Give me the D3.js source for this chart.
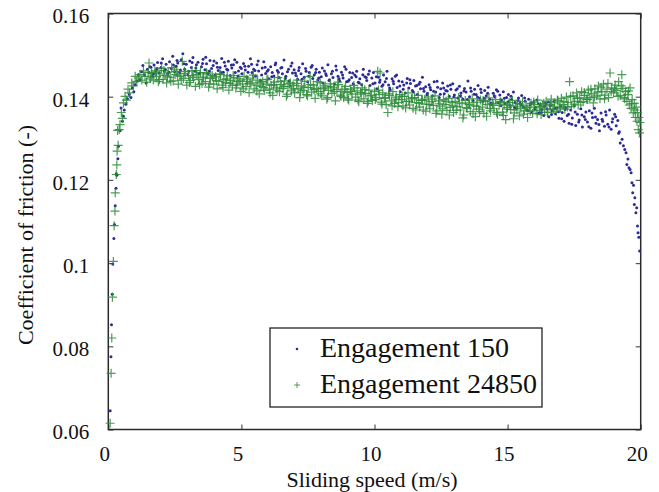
<!DOCTYPE html>
<html>
<head>
<meta charset="utf-8">
<script src="https://cdn.jsdelivr.net/npm/d3@7/dist/d3.min.js"></script>
<style>
  html, body { margin: 0; padding: 0; background: #fff; }
  svg { display: block; }
  text { font-family: "Liberation Serif", "DejaVu Serif", "Times New Roman", serif; fill: #111; }
</style>
</head>
<body>
<svg id="chart" width="659" height="492"></svg>
<script>
// Friction coefficient vs sliding speed, two engagements of the clutch test.
const seriesNames = ["Engagement 150", "Engagement 24850"];
const xTicks = [0, 5, 10, 15, 20];
const yTicks = [0.06, 0.08, 0.10, 0.12, 0.14, 0.16];
const yTickLabels = ["0.06", "0.08", "0.1", "0.12", "0.14", "0.16"];
const xTitle = "Sliding speed (m/s)";
const yTitle = "Coefficient of friction (-)";

// [sliding speed (m/s), coefficient of friction]
const engagement150 = [
  [0.07,0.0645],[0.10,0.0775],[0.12,0.0852],[0.15,0.0925],[0.17,0.0998],[0.21,0.1059],[0.23,0.1093],[0.26,0.1138],
  [0.29,0.1180],[0.30,0.1215],[0.32,0.1211],[0.36,0.1251],[0.38,0.1281],[0.44,0.1318],[0.48,0.1373],[0.53,0.1341],
  [0.57,0.1353],[0.60,0.1368],[0.66,0.1382],[0.72,0.1395],[0.79,0.1405],[0.85,0.1398],[0.90,0.1421],[0.96,0.1412],
  [1.01,0.1429],[1.07,0.1438],[1.13,0.1453],[1.19,0.1441],[1.25,0.1460],[1.30,0.1475],[1.36,0.1452],[1.42,0.1433],
  [1.47,0.1466],[1.53,0.1458],[1.60,0.1471],[1.66,0.1449],[1.72,0.1476],[1.79,0.1463],[1.85,0.1482],[1.91,0.1457],
  [1.98,0.1470],[2.04,0.1491],[2.10,0.1462],[2.17,0.1478],[2.23,0.1455],[2.30,0.1484],[2.36,0.1468],[2.42,0.1497],
  [2.49,0.1460],[2.55,0.1473],[2.61,0.1481],[2.68,0.1458],[2.74,0.1489],[2.80,0.1503],[2.87,0.1466],[2.93,0.1478],
  [2.99,0.1452],[3.06,0.1486],[3.12,0.1470],[3.18,0.1494],[3.25,0.1461],[3.31,0.1477],[3.37,0.1483],[3.44,0.1457],
  [3.50,0.1472],[3.56,0.1490],[3.63,0.1465],[3.69,0.1479],[3.75,0.1456],[3.82,0.1487],[3.88,0.1468],[3.94,0.1475],
  [4.01,0.1452],[4.07,0.1481],[4.13,0.1463],[4.20,0.1470],[4.26,0.1492],[4.32,0.1459],[4.39,0.1474],[4.45,0.1466],
  [4.51,0.1485],[4.58,0.1451],[4.64,0.1469],[4.70,0.1477],[4.77,0.1458],[4.83,0.1483],[4.89,0.1462],[4.96,0.1471],
  [5.02,0.1455],[5.08,0.1480],[5.15,0.1464],[5.21,0.1447],[5.27,0.1473],[5.34,0.1491],[5.40,0.1458],[5.46,0.1466],
  [5.53,0.1450],[5.59,0.1477],[5.65,0.1462],[5.72,0.1439],[5.78,0.1469],[5.84,0.1484],[5.91,0.1456],[5.97,0.1461],
  [6.03,0.1443],[6.10,0.1472],[6.16,0.1458],[6.22,0.1450],[6.29,0.1481],[6.35,0.1463],[6.41,0.1446],[6.48,0.1469],
  [6.54,0.1455],[6.60,0.1488],[6.67,0.1449],[6.73,0.1460],[6.79,0.1438],[6.86,0.1474],[6.92,0.1457],[6.98,0.1465],
  [7.05,0.1451],[7.11,0.1442],[7.17,0.1470],[7.24,0.1455],[7.30,0.1479],[7.36,0.1447],[7.43,0.1461],[7.49,0.1436],
  [7.55,0.1458],[7.62,0.1471],[7.68,0.1444],[7.74,0.1453],[7.81,0.1466],[7.87,0.1440],[7.93,0.1459],[8.00,0.1448],
  [8.06,0.1433],[8.12,0.1462],[8.19,0.1451],[8.25,0.1477],[8.31,0.1441],[8.38,0.1455],[8.44,0.1446],[8.50,0.1430],
  [8.57,0.1464],[8.63,0.1449],[8.69,0.1438],[8.76,0.1459],[8.82,0.1445],[8.88,0.1472],[8.95,0.1436],[9.01,0.1437],
  [9.07,0.1458],[9.14,0.1446],[9.20,0.1431],[9.26,0.1452],[9.33,0.1461],[9.39,0.1435],[9.45,0.1443],[9.52,0.1429],
  [9.58,0.1466],[9.64,0.1448],[9.71,0.1439],[9.77,0.1454],[9.83,0.1427],[9.90,0.1445],[9.96,0.1458],[10.02,0.1433],
  [10.09,0.1419],[10.15,0.1447],[10.21,0.1440],[10.28,0.1425],[10.34,0.1452],[10.40,0.1436],[10.47,0.1461],[10.53,0.1428],
  [10.59,0.1417],[10.66,0.1443],[10.72,0.1431],[10.78,0.1449],[10.85,0.1422],[10.91,0.1438],[10.97,0.1412],[11.04,0.1436],
  [11.10,0.1428],[11.16,0.1409],[11.23,0.1444],[11.29,0.1421],[11.35,0.1432],[11.42,0.1415],[11.48,0.1439],[11.54,0.1426],
  [11.61,0.1405],[11.67,0.1430],[11.73,0.1419],[11.80,0.1447],[11.86,0.1413],[11.92,0.1424],[11.99,0.1408],[12.05,0.1429],
  [12.11,0.1417],[12.18,0.1402],[12.24,0.1436],[12.30,0.1411],[12.37,0.1423],[12.43,0.1398],[12.49,0.1419],[12.56,0.1433],
  [12.62,0.1407],[12.68,0.1415],[12.75,0.1426],[12.81,0.1401],[12.87,0.1418],[12.94,0.1431],[13.00,0.1404],[13.06,0.1416],
  [13.13,0.1397],[13.19,0.1425],[13.25,0.1409],[13.32,0.1394],[13.38,0.1420],[13.44,0.1411],[13.51,0.1438],[13.57,0.1400],
  [13.63,0.1413],[13.70,0.1391],[13.76,0.1418],[13.82,0.1405],[13.89,0.1427],[13.95,0.1396],[14.01,0.1410],[14.08,0.1389],
  [14.14,0.1415],[14.20,0.1402],[14.27,0.1423],[14.33,0.1394],[14.39,0.1381],[14.46,0.1408],[14.52,0.1399],[14.58,0.1417],
  [14.65,0.1386],[14.71,0.1404],[14.77,0.1392],[14.84,0.1412],[14.90,0.1383],[14.96,0.1398],[15.03,0.1405],[15.09,0.1379],
  [15.15,0.1393],[15.22,0.1411],[15.28,0.1386],[15.34,0.1372],[15.41,0.1397],[15.47,0.1384],[15.53,0.1403],[15.60,0.1375],
  [15.66,0.1389],[15.72,0.1368],[15.79,0.1394],[15.85,0.1381],[15.91,0.1363],[15.98,0.1387],[16.04,0.1374],[16.10,0.1392],
  [16.17,0.1361],[16.23,0.1380],[16.29,0.1369],[16.36,0.1355],[16.42,0.1384],[16.48,0.1371],[16.55,0.1352],[16.61,0.1378],
  [16.67,0.1366],[16.74,0.1389],[16.80,0.1359],[16.86,0.1373],[16.93,0.1348],[16.99,0.1377],[17.05,0.1362],[17.12,0.1341],
  [17.18,0.1374],[17.24,0.1355],[17.31,0.1336],[17.37,0.1368],[17.43,0.1349],[17.50,0.1379],[17.56,0.1331],[17.62,0.1358],
  [17.69,0.1344],[17.75,0.1371],[17.81,0.1327],[17.88,0.1352],[17.94,0.1363],[18.00,0.1339],[18.07,0.1366],[18.13,0.1324],
  [18.19,0.1350],[18.26,0.1372],[18.32,0.1336],[18.38,0.1345],[18.45,0.1318],[18.51,0.1361],[18.57,0.1341],[18.64,0.1329],
  [18.70,0.1356],[18.76,0.1334],[18.83,0.1368],[18.89,0.1322],[18.95,0.1347],[19.02,0.1358],[19.08,0.1330],[19.14,0.1343],
  [19.20,0.1316],[19.23,0.1289],[19.30,0.1298],[19.35,0.1282],[19.40,0.1273],[19.45,0.1265],[19.48,0.1237],[19.52,0.1250],
  [19.56,0.1229],[19.60,0.1225],[19.64,0.1217],[19.67,0.1193],[19.70,0.1169],[19.73,0.1187],[19.76,0.1141],[19.78,0.1157],
  [19.82,0.1121],[19.85,0.1133],[19.88,0.1089],[19.90,0.1073],[19.93,0.1062],[19.96,0.1029],
  [1.56,0.1472],[1.70,0.1455],[1.84,0.1468],[1.99,0.1481],[2.14,0.1466],[2.28,0.1459],[2.45,0.1476],[2.58,0.1487],
  [2.71,0.1464],[2.84,0.1479],[3.02,0.1461],[3.15,0.1482],[3.29,0.1469],[3.41,0.1455],[3.54,0.1480],[3.66,0.1495],
  [3.80,0.1462],[3.97,0.1486],[4.10,0.1471],[4.23,0.1458],[4.36,0.1483],[4.49,0.1464],[4.62,0.1476],[4.75,0.1489],
  [4.87,0.1450],[5.00,0.1468],[5.13,0.1473],[5.25,0.1459],[5.38,0.1478],[5.51,0.1463],[5.63,0.1486],[5.76,0.1452],
  [5.89,0.1471],[6.01,0.1465],[6.14,0.1448],[6.27,0.1477],[6.39,0.1459],[6.52,0.1470],[6.65,0.1444],[6.77,0.1466],
  [6.90,0.1481],[7.03,0.1457],[7.15,0.1463],[7.28,0.1442],[7.41,0.1468],[7.53,0.1449],[7.66,0.1475],[7.79,0.1458],
  [7.91,0.1445],[8.04,0.1469],[8.17,0.1455],[8.29,0.1439],[8.42,0.1461],[8.55,0.1474],[8.67,0.1443],[8.80,0.1452],
  [8.93,0.1466],[9.05,0.1441],[9.18,0.1457],[9.31,0.1448],[9.43,0.1433],[9.56,0.1453],[9.69,0.1446],[9.81,0.1462],
  [9.94,0.1431],[10.07,0.1448],[10.19,0.1435],[10.32,0.1429],[10.45,0.1444],[10.57,0.1421],[10.70,0.1437],[10.83,0.1452],
  [10.95,0.1426],[11.08,0.1418],[11.21,0.1433],[11.33,0.1441],[11.46,0.1411],[11.59,0.1427],[11.71,0.1435],[11.84,0.1420],
  [11.97,0.1404],[12.09,0.1422],[12.22,0.1413],[12.35,0.1437],[12.47,0.1406],[12.60,0.1421],[12.73,0.1414],[12.85,0.1428],
  [12.98,0.1399],[13.11,0.1419],[13.23,0.1402],[13.36,0.1414],[13.49,0.1393],[13.61,0.1421],[13.74,0.1406],[13.87,0.1399],
  [13.99,0.1418],[14.12,0.1396],[14.25,0.1408],[14.37,0.1385],[14.50,0.1402],[14.63,0.1413],[14.75,0.1378],[14.88,0.1396],
  [15.01,0.1387],[15.13,0.1401],[15.26,0.1374],[15.39,0.1391],[15.51,0.1380],[15.64,0.1397],[15.77,0.1366],[15.89,0.1385],
  [16.02,0.1371],[16.15,0.1383],[16.27,0.1362],[16.40,0.1377],[16.53,0.1388],[16.65,0.1357],[16.78,0.1372],[16.91,0.1364],
  [17.03,0.1347],[17.16,0.1369],[17.29,0.1358],[17.41,0.1334],[17.54,0.1363],[17.67,0.1339],[17.79,0.1356],[17.92,0.1345],
  [18.05,0.1328],[18.17,0.1361],[18.30,0.1351],[18.43,0.1333],[18.55,0.1346],[18.68,0.1364],[18.81,0.1327],[18.93,0.1339],
  [19.06,0.1352],[19.17,0.1312]
];

const engagement24850 = [
  [0.07,0.0615],[0.105,0.0735],[0.13,0.0820],[0.155,0.0918],[0.19,0.1004],[0.22,0.1090],[0.25,0.1125],[0.26,0.1169],
  [0.30,0.1213],[0.32,0.1236],[0.33,0.1269],[0.35,0.1319],[0.37,0.1283],[0.41,0.1321],[0.44,0.1333],[0.49,0.1362],
  [0.53,0.1348],[0.57,0.1385],[0.63,0.1401],[0.68,0.1392],[0.74,0.1418],[0.80,0.1409],[0.88,0.1433],[0.94,0.1426],
  [1.01,0.1449],[1.07,0.1437],[1.13,0.1445],[1.19,0.1453],[1.26,0.1440],[1.32,0.1462],[1.38,0.1449],[1.44,0.1435],
  [1.50,0.1458],[1.53,0.1481],[1.57,0.1443],[1.63,0.1457],[1.69,0.1440],[1.75,0.1462],[1.81,0.1449],[1.88,0.1436],
  [1.94,0.1455],[2.00,0.1468],[2.06,0.1442],[2.13,0.1451],[2.19,0.1433],[2.25,0.1459],[2.32,0.1447],[2.38,0.1470],
  [2.44,0.1438],[2.51,0.1453],[2.57,0.1461],[2.63,0.1430],[2.70,0.1449],[2.78,0.1485],[2.82,0.1444],[2.89,0.1456],
  [2.95,0.1428],[3.01,0.1451],[3.08,0.1439],[3.14,0.1462],[3.20,0.1446],[3.27,0.1425],[3.33,0.1453],[3.39,0.1441],
  [3.46,0.1458],[3.52,0.1432],[3.58,0.1447],[3.65,0.1436],[3.71,0.1455],[3.77,0.1423],[3.84,0.1444],[3.90,0.1451],
  [3.96,0.1430],[4.03,0.1448],[4.09,0.1419],[4.15,0.1437],[4.22,0.1453],[4.28,0.1428],[4.34,0.1441],[4.41,0.1434],
  [4.47,0.1450],[4.53,0.1416],[4.60,0.1439],[4.66,0.1427],[4.72,0.1446],[4.79,0.1421],[4.85,0.1436],[4.91,0.1443],
  [4.98,0.1413],[5.04,0.1431],[5.10,0.1449],[5.17,0.1424],[5.23,0.1437],[5.29,0.1410],[5.36,0.1433],[5.42,0.1445],
  [5.48,0.1419],[5.55,0.1428],[5.61,0.1440],[5.67,0.1407],[5.74,0.1425],[5.80,0.1436],[5.86,0.1415],[5.93,0.1430],
  [5.99,0.1442],[6.05,0.1418],[6.12,0.1427],[6.18,0.1403],[6.24,0.1435],[6.31,0.1421],[6.37,0.1446],[6.43,0.1412],
  [6.50,0.1429],[6.56,0.1420],[6.62,0.1438],[6.69,0.1401],[6.75,0.1424],[6.81,0.1431],[6.88,0.1414],[6.94,0.1427],
  [7.00,0.1409],[7.07,0.1432],[7.13,0.1419],[7.19,0.1398],[7.26,0.1426],[7.32,0.1415],[7.38,0.1437],[7.45,0.1405],
  [7.51,0.1422],[7.58,0.1449],[7.64,0.1411],[7.70,0.1428],[7.77,0.1396],[7.83,0.1420],[7.89,0.1413],[7.96,0.1433],
  [8.02,0.1402],[8.08,0.1419],[8.15,0.1426],[8.21,0.1394],[8.27,0.1415],[8.34,0.1431],[8.40,0.1408],[8.46,0.1421],
  [8.53,0.1390],[8.59,0.1417],[8.65,0.1429],[8.72,0.1404],[8.78,0.1413],[8.84,0.1398],[8.91,0.1425],[8.97,0.1410],
  [9.03,0.1392],[9.10,0.1418],[9.16,0.1406],[9.22,0.1427],[9.29,0.1399],[9.35,0.1414],[9.41,0.1388],[9.48,0.1410],
  [9.54,0.1421],[9.60,0.1395],[9.67,0.1408],[9.73,0.1384],[9.79,0.1416],[9.86,0.1402],[9.92,0.1391],[10.00,0.1412],
  [10.06,0.1398],[10.12,0.1461],[10.18,0.1405],[10.21,0.1457],[10.25,0.1387],[10.31,0.1409],[10.37,0.1396],[10.44,0.1381],
  [10.50,0.1362],[10.56,0.1403],[10.63,0.1390],[10.69,0.1412],[10.75,0.1384],[10.82,0.1399],[10.88,0.1376],[10.94,0.1405],
  [11.01,0.1393],[11.07,0.1378],[11.13,0.1401],[11.20,0.1388],[11.26,0.1409],[11.32,0.1380],[11.39,0.1395],[11.45,0.1372],
  [11.51,0.1398],[11.58,0.1386],[11.64,0.1403],[11.70,0.1375],[11.77,0.1391],[11.83,0.1368],[11.89,0.1394],[11.96,0.1382],
  [12.02,0.1399],[12.08,0.1371],[12.15,0.1388],[12.21,0.1379],[12.27,0.1402],[12.34,0.1366],[12.40,0.1390],[12.46,0.1377],
  [12.53,0.1358],[12.59,0.1393],[12.65,0.1381],[12.72,0.1367],[12.78,0.1396],[12.84,0.1374],[12.91,0.1386],[12.97,0.1362],
  [13.03,0.1389],[13.10,0.1376],[13.16,0.1398],[13.22,0.1368],[13.29,0.1383],[13.35,0.1356],[13.41,0.1391],[13.48,0.1372],
  [13.54,0.1385],[13.60,0.1364],[13.67,0.1395],[13.73,0.1378],[13.79,0.1352],[13.86,0.1387],[13.92,0.1370],[13.98,0.1392],
  [14.05,0.1375],[14.11,0.1360],[14.17,0.1389],[14.24,0.1381],[14.30,0.1397],[14.36,0.1366],[14.43,0.1384],[14.49,0.1371],
  [14.55,0.1393],[14.62,0.1358],[14.68,0.1379],[14.74,0.1388],[14.81,0.1363],[14.87,0.1382],[14.93,0.1345],[14.99,0.1374],
  [15.06,0.1386],[15.12,0.1369],[15.18,0.1391],[15.25,0.1361],[15.31,0.1377],[15.37,0.1383],[15.44,0.1354],[15.50,0.1372],
  [15.56,0.1388],[15.63,0.1366],[15.69,0.1378],[15.75,0.1350],[15.82,0.1375],[15.88,0.1384],[15.94,0.1360],[16.01,0.1381],
  [16.07,0.1367],[16.13,0.1392],[16.20,0.1373],[16.26,0.1357],[16.32,0.1380],[16.39,0.1369],[16.45,0.1389],[16.51,0.1362],
  [16.58,0.1378],[16.64,0.1394],[16.70,0.1371],[16.77,0.1385],[16.83,0.1365],[16.89,0.1390],[16.96,0.1377],[17.02,0.1396],
  [17.08,0.1381],[17.15,0.1370],[17.21,0.1399],[17.27,0.1386],[17.33,0.1436],[17.40,0.1376],[17.46,0.1402],
  [17.52,0.1389],[17.59,0.1409],[17.65,0.1380],[17.71,0.1397],[17.78,0.1412],[17.84,0.1388],[17.90,0.1403],[17.97,0.1394],
  [18.03,0.1416],[18.09,0.1398],[18.16,0.1407],[18.22,0.1385],[18.28,0.1419],[18.35,0.1402],[18.41,0.1426],[18.47,0.1395],
  [18.54,0.1412],[18.60,0.1430],[18.66,0.1404],[18.73,0.1418],[18.79,0.1398],[18.85,0.1457],[18.91,0.1421],[18.98,0.1409],
  [19.04,0.1428],[19.10,0.1415],[19.17,0.1436],[19.23,0.1403],[19.29,0.1453],[19.33,0.1420],[19.38,0.1398],[19.43,0.1412],
  [19.48,0.1389],[19.52,0.1405],[19.57,0.1380],[19.60,0.1421],[19.64,0.1372],[19.68,0.1393],[19.72,0.1361],[19.76,0.1384],
  [19.80,0.1350],[19.83,0.1375],[19.86,0.1341],[19.88,0.1362],[19.91,0.1321],[19.93,0.1350],[19.95,0.1313],[19.97,0.1338],
  [1.60,0.1447],[1.78,0.1459],[1.92,0.1441],[2.09,0.1463],[2.22,0.1448],[2.35,0.1437],[2.48,0.1466],[2.60,0.1452],
  [2.74,0.1440],[2.86,0.1461],[3.05,0.1434],[3.17,0.1450],[3.30,0.1463],[3.43,0.1429],[3.55,0.1445],[3.68,0.1458],
  [3.81,0.1431],[3.93,0.1447],[4.06,0.1439],[4.19,0.1455],[4.31,0.1422],[4.44,0.1443],[4.57,0.1432],[4.69,0.1451],
  [4.82,0.1428],[4.95,0.1438],[5.07,0.1419],[5.20,0.1442],[5.32,0.1431],[5.45,0.1452],[5.58,0.1414],[5.70,0.1433],
  [5.83,0.1422],[5.96,0.1441],[6.08,0.1409],[6.21,0.1429],[6.34,0.1416],[6.46,0.1437],[6.59,0.1425],[6.72,0.1406],
  [6.84,0.1433],[6.97,0.1419],[7.10,0.1440],[7.22,0.1411],[7.35,0.1423],[7.48,0.1402],[7.60,0.1429],[7.73,0.1417],
  [7.86,0.1436],[7.98,0.1407],[8.11,0.1421],[8.24,0.1398],[8.36,0.1424],[8.49,0.1412],[8.62,0.1435],[8.74,0.1401],
  [8.87,0.1418],[9.00,0.1395],[9.12,0.1413],[9.25,0.1421],[9.38,0.1392],[9.50,0.1406],[9.63,0.1417],[9.76,0.1389],
  [9.88,0.1404],[10.03,0.1393],[10.15,0.1416],[10.28,0.1382],[10.41,0.1398],[10.53,0.1407],[10.66,0.1378],[10.79,0.1394],
  [10.91,0.1386],[11.04,0.1401],[11.17,0.1373],[11.29,0.1389],[11.42,0.1397],[11.55,0.1368],[11.67,0.1384],[11.80,0.1392],
  [11.93,0.1365],[12.05,0.1381],[12.18,0.1394],[12.31,0.1360],[12.43,0.1383],[12.56,0.1371],[12.69,0.1389],[12.81,0.1356],
  [12.94,0.1378],[13.07,0.1367],[13.19,0.1385],[13.32,0.1349],[13.45,0.1374],[13.57,0.1381],[13.70,0.1359],[13.83,0.1377],
  [13.95,0.1364],[14.08,0.1391],[14.21,0.1353],[14.33,0.1372],[14.46,0.1380],[14.59,0.1362],[14.71,0.1386],[14.84,0.1355],
  [14.97,0.1370],[15.09,0.1379],[15.22,0.1347],[15.35,0.1368],[15.47,0.1382],[15.60,0.1358],[15.73,0.1373],[15.85,0.1365],
  [15.98,0.1387],[16.11,0.1359],[16.23,0.1376],[16.36,0.1384],[16.49,0.1363],[16.61,0.1381],[16.74,0.1369],[16.87,0.1392],
  [16.99,0.1373],[17.12,0.1388],[17.25,0.1375],[17.37,0.1401],[17.50,0.1382],[17.63,0.1396],[17.75,0.1386],[17.88,0.1410],
  [18.01,0.1393],[18.13,0.1418],[18.26,0.1399],[18.39,0.1411],[18.51,0.1423],[18.64,0.1395],[18.77,0.1432],[18.89,0.1412],
  [19.02,0.1419],[19.15,0.1401],[19.27,0.1426],[19.40,0.1395],[19.54,0.1414],[19.66,0.1383],[19.78,0.1368]
];

const svg = d3.select("#chart");
const plot = { left: 108.3, right: 640.7, top: 13.5, bottom: 429.5 };

const x = d3.scaleLinear().domain([0, 20]).range([plot.left, plot.right]);
const y = d3.scaleLinear().domain([0.06, 0.16]).range([plot.bottom, plot.top]);

const blue = "#2b2b98";
const green = "#2c8b38";

// Inward ticks on all four sides
function styleAxis(g) {
  g.select(".domain").remove();
  g.attr("font-family", null);
  g.selectAll(".tick line").attr("stroke", "#555").attr("stroke-width", 1.2);
  g.selectAll(".tick text").attr("font-size", 21).attr("fill", "#111");
}

svg.append("g")
  .attr("transform", `translate(0,${plot.bottom})`)
  .call(d3.axisBottom(x).tickValues(xTicks).tickSize(-5).tickPadding(17).tickFormat(d3.format("d")))
  .call(styleAxis)
  .call(g => g.selectAll(".tick text").attr("dx", -4));

svg.append("g")
  .attr("transform", `translate(0,${plot.top})`)
  .call(d3.axisTop(x).tickValues(xTicks).tickSize(-5).tickFormat(""))
  .call(styleAxis);

svg.append("g")
  .attr("transform", `translate(${plot.left},0)`)
  .call(d3.axisLeft(y).tickValues(yTicks).tickSize(-5).tickPadding(19)
    .tickFormat((d, i) => yTickLabels[i]))
  .call(styleAxis)
  .call(g => g.selectAll(".tick text").attr("dy", "0.45em"));

svg.append("g")
  .attr("transform", `translate(${plot.right},0)`)
  .call(d3.axisRight(y).tickValues(yTicks).tickSize(-5).tickFormat(""))
  .call(styleAxis);

// Plot frame
svg.append("rect")
  .attr("x", plot.left).attr("y", plot.top)
  .attr("width", plot.right - plot.left).attr("height", plot.bottom - plot.top)
  .attr("fill", "none").attr("stroke", "#2a2a2a").attr("stroke-width", 1.5);

// Series: dots for the first engagement, crosses for the later one
svg.append("g").selectAll("circle")
  .data(engagement150)
  .join("circle")
  .attr("cx", d => x(d[0]))
  .attr("cy", d => y(d[1]))
  .attr("r", 1.5)
  .attr("fill", blue);

const cross = "M-4.5,0H4.5M0,-4.5V4.5";
svg.append("g").selectAll("path")
  .data(engagement24850)
  .join("path")
  .attr("transform", d => `translate(${x(d[0])},${y(d[1])})`)
  .attr("d", cross)
  .attr("stroke", green)
  .attr("stroke-width", 1.2)
  .attr("stroke-opacity", 0.85)
  .attr("fill", "none");

// Axis titles
svg.append("text")
  .attr("x", 372).attr("y", 487)
  .attr("text-anchor", "middle")
  .attr("font-size", 22)
  .text(xTitle);

svg.append("text")
  .attr("transform", "translate(33,235) rotate(-90)")
  .attr("text-anchor", "middle")
  .attr("font-size", 22)
  .text(yTitle);

// Legend
const legend = svg.append("g");
legend.append("rect")
  .attr("x", 270).attr("y", 328).attr("width", 272).attr("height", 79)
  .attr("fill", "#fff").attr("stroke", "#111").attr("stroke-width", 1.2);

const rows = [357, 393];
legend.append("circle")
  .attr("cx", 297).attr("cy", rows[0] - 8).attr("r", 1.3).attr("fill", blue);
legend.append("path")
  .attr("transform", `translate(297,${rows[1] - 8})`)
  .attr("d", "M-3,0H3M0,-3V3")
  .attr("stroke", green).attr("stroke-width", 1).attr("stroke-opacity", 0.8).attr("fill", "none");

legend.selectAll("text.lab")
  .data(seriesNames)
  .join("text")
  .attr("class", "lab")
  .attr("x", 320)
  .attr("y", (d, i) => rows[i])
  .attr("font-size", 28)
  .text(d => d);
</script>
</body>
</html>
